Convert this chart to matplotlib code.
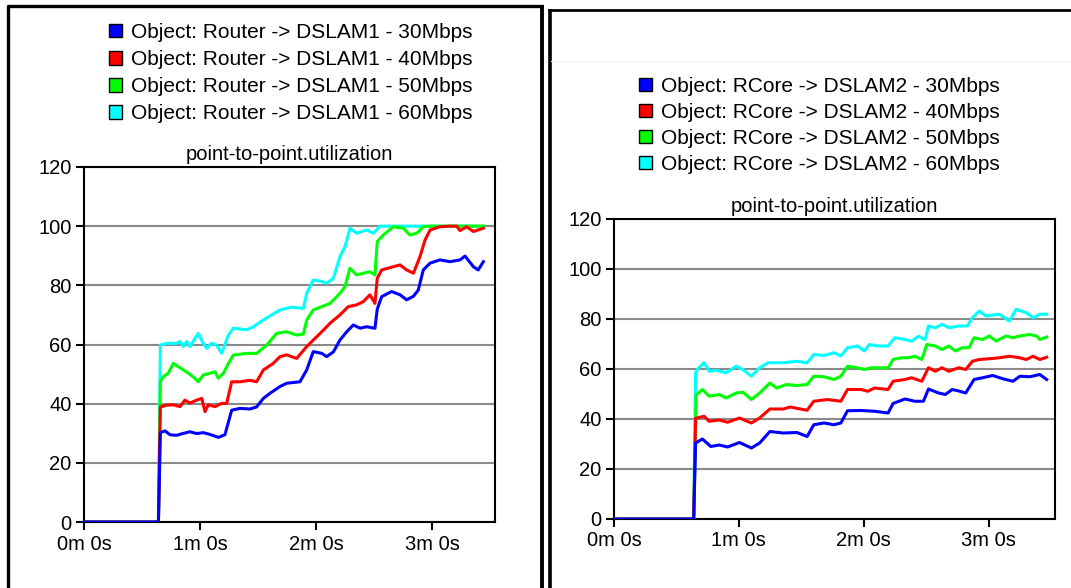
import matplotlib
matplotlib.use("Agg")
import matplotlib.pyplot as plt
from matplotlib.lines import Line2D
from matplotlib.patches import Patch

# ─── Canvas ─────────────────────────────────────────────────────────────────
W, H = 1071, 588
FONT = ["Liberation Sans", "DejaVu Sans"]
FS = 14.5
FS_LEGEND = 15

BLUE = "#0000ff"
RED = "#ff0000"
GREEN = "#00ff00"
CYAN = "#00ffff"
GRID = "#8a8a8a"

TITLE = "point-to-point.utilization"
X_TICKS = [0, 60, 120, 180]
X_LABELS = ["0m 0s", "1m 0s", "2m 0s", "3m 0s"]
Y_TICKS = [0, 20, 40, 60, 80, 100, 120]

# ─── Router -> DSLAM1 (time in s, utilization %) ────────────────────────────
r1_labels = [
    "Object: Router -> DSLAM1 - 30Mbps",
    "Object: Router -> DSLAM1 - 40Mbps",
    "Object: Router -> DSLAM1 - 50Mbps",
    "Object: Router -> DSLAM1 - 60Mbps",
]

r1_30_t = [0, 38.5, 39.5, 41.9, 44.5, 47.9, 50.5, 54.8, 58.3, 61.7, 65.2, 69.5,
           72.9, 76.4, 80.7, 85.9, 89.3, 92.8, 96.2, 101.4, 104.8, 111.7, 115.2,
           118.6, 123.0, 125.5, 129.0, 132.4, 135.9, 139.3, 142.8, 146.2, 150.5,
           151.7, 154.0, 159.1, 163.5, 166.9, 170.4, 172.9, 175.5, 179.0, 184.1,
           189.3, 194.5, 197.1, 201.4, 203.9, 206.6]
r1_30_v = [0, 0, 30.2, 30.8, 29.5, 29.3, 29.8, 30.5, 29.9, 30.2, 29.6, 28.6,
           29.5, 37.8, 38.4, 38.2, 38.9, 41.8, 43.5, 45.8, 46.9, 47.4, 51.4,
           57.6, 57.0, 55.9, 57.5, 61.5, 64.3, 66.6, 65.5, 66.0, 65.5,
           72.0, 76.2, 77.9, 76.8, 75.1, 76.3, 78.4, 85.2, 87.5, 88.6,
           88.0, 88.6, 89.9, 86.3, 85.2, 88.0]

r1_40_t = [0, 38.5, 39.5, 42.8, 46.2, 49.7, 52.2, 54.8, 58.3, 60.9, 62.6, 64.3,
           67.8, 71.2, 73.8, 76.4, 80.7, 85.9, 89.3, 92.8, 97.9, 101.4, 104.8,
           110.0, 115.2, 118.6, 123.0, 127.3, 132.4, 136.7, 141.0, 144.5, 147.9,
           150.5, 151.7, 154.0, 160.0, 163.5, 166.9, 170.4, 173.8, 176.4, 179.0,
           184.1, 189.3, 192.8, 194.5, 197.9, 201.4, 206.6]
r1_40_v = [0, 0, 38.9, 39.5, 39.6, 39.0, 41.2, 40.2, 41.2, 41.8, 37.3, 39.6,
           39.0, 40.1, 40.1, 47.4, 47.4, 47.9, 47.4, 51.4, 53.6, 55.9, 56.5,
           55.3, 59.3, 61.5, 64.3, 67.2, 70.0, 72.8, 73.4, 74.5, 76.8,
           73.9, 82.4, 85.2, 86.3, 86.9, 85.2, 84.1, 89.7, 95.3, 98.7,
           99.8, 100.0, 100.0, 98.5, 99.8, 98.2, 99.3]

r1_50_t = [0, 38.5, 39.5, 41.0, 43.6, 46.2, 48.8, 51.4, 54.0, 56.6, 59.1, 61.7,
           65.2, 67.8, 69.5, 72.1, 74.7, 77.2, 84.1, 89.3, 94.5, 99.7, 104.8,
           110.0, 113.5, 115.2, 118.6, 123.0, 127.3, 132.4, 135.0, 137.6, 141.0,
           144.5, 147.9, 150.5, 151.7, 154.8, 160.0, 165.2, 168.6, 172.1, 175.5,
           179.0, 206.6]
r1_50_v = [0, 0, 47.4, 49.1, 50.3, 53.6, 52.5, 51.4, 50.3, 49.0, 47.4, 49.7,
           50.3, 50.8, 48.6, 50.3, 53.6, 56.4, 57.0, 57.0, 59.8, 63.8, 64.3,
           63.2, 63.5, 68.3, 71.7, 72.8, 73.9, 77.3, 79.6, 85.8, 83.5,
           84.1, 84.6, 83.5, 94.8, 97.0, 99.8, 99.3, 97.0, 97.6, 99.8,
           100.0, 100.0]

r1_60_t = [0, 38.5, 39.5, 42.8, 47.9, 49.7, 51.4, 53.1, 54.8, 59.1, 61.7, 63.5,
           66.0, 68.6, 71.2, 74.7, 77.2, 84.1, 87.6, 92.8, 101.4, 107.4, 113.5,
           115.2, 118.6, 123.0, 125.5, 129.0, 132.4, 135.0, 137.6, 141.0, 146.2,
           149.7, 153.1, 206.6]
r1_60_v = [0, 0, 59.8, 60.4, 60.4, 61.0, 59.3, 61.0, 59.3, 63.8, 60.4, 58.7,
           60.4, 59.8, 57.0, 63.2, 65.5, 65.0, 66.0, 68.3, 71.7, 72.6, 72.2,
           77.3, 81.8, 81.3, 80.7, 82.4, 89.7, 93.1, 99.3, 97.6, 98.7,
           97.6, 100.0, 100.0]

# ─── RCore -> DSLAM2 ────────────────────────────────────────────────────────
r2_labels = [
    "Object: RCore -> DSLAM2 - 30Mbps",
    "Object: RCore -> DSLAM2 - 40Mbps",
    "Object: RCore -> DSLAM2 - 50Mbps",
    "Object: RCore -> DSLAM2 - 60Mbps",
]

r2_30_t = [0, 38.3, 39.2, 42.5, 46.5, 50.5, 54.6, 60.3, 66.0, 70.0, 74.9, 81.4,
           87.9, 92.8, 96.0, 100.9, 105.7, 109.0, 112.2, 118.7, 125.2, 131.7,
           134.1, 139.8, 144.6, 148.7, 151.1, 156.0, 159.2, 162.5, 165.7, 169.0,
           173.0, 177.1, 182.0, 186.8, 191.7, 195.0, 199.8, 204.6, 207.9]
r2_30_v = [0, 0, 30.4, 32.0, 29.0, 29.6, 28.8, 30.6, 28.4, 30.4, 35.0, 34.4,
           34.6, 33.0, 37.7, 38.4, 37.7, 38.4, 43.3, 43.4, 43.1, 42.4,
           46.2, 48.0, 47.1, 47.1, 52.0, 50.4, 49.8, 51.8, 51.2, 50.4,
           55.8, 56.5, 57.4, 56.1, 55.1, 57.1, 56.9, 57.8, 55.8]

r2_40_t = [0, 38.3, 39.2, 43.3, 45.7, 50.6, 54.6, 60.3, 66.0, 70.0, 74.9, 81.4,
           84.6, 92.8, 96.0, 102.5, 109.0, 112.2, 118.7, 122.0, 125.2, 131.7,
           134.1, 139.8, 143.0, 147.9, 151.1, 154.4, 157.6, 160.9, 165.7, 169.0,
           172.2, 175.5, 180.3, 185.2, 190.0, 194.9, 198.1, 201.4, 204.6, 207.9]
r2_40_v = [0, 0, 40.3, 41.1, 39.1, 39.6, 38.7, 40.4, 38.4, 40.4, 44.0, 44.0,
           44.8, 43.5, 47.1, 47.8, 47.1, 51.8, 51.8, 51.1, 52.4, 51.8,
           55.1, 55.8, 56.5, 55.1, 60.5, 59.1, 60.5, 59.1, 60.5, 59.8,
           63.1, 63.8, 64.1, 64.5, 65.1, 64.5, 63.8, 65.1, 63.8, 64.7]

r2_50_t = [0, 38.3, 39.5, 42.5, 45.7, 50.6, 53.8, 58.7, 62.0, 66.0, 70.0, 74.9,
           78.1, 83.0, 87.9, 92.8, 96.0, 100.9, 105.7, 109.0, 112.2, 117.0,
           120.3, 123.6, 126.8, 131.7, 134.1, 138.2, 141.4, 144.6, 147.9, 150.3,
           154.4, 157.6, 160.9, 164.1, 167.3, 170.6, 173.0, 177.1, 180.3, 183.6,
           188.4, 191.7, 195.0, 199.8, 203.0, 204.6, 207.9]
r2_50_v = [0, 0, 49.6, 51.8, 49.1, 49.8, 48.4, 50.4, 50.7, 47.8, 50.4, 54.4,
           52.4, 53.8, 53.4, 53.8, 57.1, 56.9, 55.8, 57.1, 61.1, 60.5,
           59.8, 60.5, 60.5, 60.5, 63.8, 64.5, 64.5, 65.1, 63.8, 69.8,
           69.2, 67.8, 69.2, 67.2, 68.5, 68.5, 72.5, 71.8, 73.2, 71.2,
           73.2, 72.5, 73.2, 73.8, 73.2, 71.8, 72.8]

r2_60_t = [0, 38.3, 39.2, 40.8, 43.3, 45.7, 48.9, 53.8, 58.7, 61.9, 66.0, 70.0,
           74.1, 81.4, 87.9, 92.8, 96.0, 100.9, 105.7, 109.0, 112.2, 117.0,
           120.3, 122.7, 126.8, 131.7, 134.9, 139.8, 143.0, 146.3, 149.5, 151.1,
           154.4, 157.6, 160.9, 165.7, 169.8, 172.2, 175.5, 178.7, 185.2, 190.0,
           193.3, 198.1, 201.4, 204.6, 207.9]
r2_60_v = [0, 0, 58.5, 60.5, 62.5, 59.1, 59.5, 58.5, 61.1, 59.8, 57.1, 60.5,
           62.5, 62.5, 63.1, 62.5, 65.8, 65.4, 66.5, 65.2, 68.5, 69.2,
           67.2, 69.8, 69.2, 69.2, 72.5, 71.8, 71.1, 73.1, 71.8, 77.2,
           76.5, 77.9, 76.5, 77.2, 77.2, 80.5, 83.2, 81.2, 81.9, 79.2,
           83.9, 82.5, 80.5, 81.9, 81.9]

COLORS = [BLUE, RED, GREEN, CYAN]


def fx(px):
    return px / W


def fy(py):
    return 1 - py / H


def draw_panel(fig, box, xmax, series, labels, legend_xy, row_gap):
    left, top, right, bottom = box
    ax = fig.add_axes([fx(left), fy(bottom), (right - left) / W, (bottom - top) / H])

    # cyan first so the lower-rate curves sit on top of it
    for (t, v), color in reversed(list(zip(series, COLORS))):
        ax.plot(t, v, color=color, lw=2.2, solid_joinstyle="round", zorder=3)

    ax.set_xlim(0, xmax)
    ax.set_ylim(0, 120)
    ax.set_xticks(X_TICKS)
    ax.set_xticklabels(X_LABELS)
    ax.set_yticks(Y_TICKS)
    ax.yaxis.grid(True, color=GRID, lw=1.5)
    ax.set_axisbelow(True)
    for sp in ax.spines.values():
        sp.set_linewidth(1.5)
        sp.set_color("black")
    ax.tick_params(direction="out", length=6, width=1.5, pad=3,
                   labelsize=FS, colors="black")
    ax.set_title(TITLE, fontsize=FS, pad=5)

    handles = [Patch(facecolor=c, edgecolor="black", lw=1.0) for c in COLORS]
    ax.legend(handles, labels, loc="upper left",
              bbox_to_anchor=(fx(legend_xy[0]), fy(legend_xy[1])),
              bbox_transform=fig.transFigure, frameon=False, fontsize=FS_LEGEND,
              handlelength=0.62, handleheight=0.62, handletextpad=0.45,
              labelspacing=row_gap, borderpad=0, borderaxespad=0)
    return ax


plt.rcParams["font.family"] = FONT
fig = plt.figure(figsize=(W / 100, H / 100), dpi=100)
fig.patch.set_facecolor("white")

draw_panel(fig, (84, 167, 495, 522), 212.6,
           [(r1_30_t, r1_30_v), (r1_40_t, r1_40_v),
            (r1_50_t, r1_50_v), (r1_60_t, r1_60_v)],
           r1_labels, (109, 23), 0.39)
draw_panel(fig, (614, 219, 1055, 519), 211.9,
           [(r2_30_t, r2_30_v), (r2_40_t, r2_40_v),
            (r2_50_t, r2_50_v), (r2_60_t, r2_60_v)],
           r2_labels, (639, 77), 0.33)

# panel frames
frame = dict(color="black", transform=fig.transFigure, solid_capstyle="butt")
fig.add_artist(Line2D([fx(8), fx(8)], [fy(5), 0], lw=2.4, **frame))
fig.add_artist(Line2D([fx(7), fx(543)], [fy(6), fy(6)], lw=2.4, **frame))
fig.add_artist(Line2D([fx(541.5), fx(541.5)], [fy(5), 0], lw=2.8, **frame))
fig.add_artist(Line2D([fx(549.5), fx(549.5)], [fy(9), 0], lw=2.6, **frame))
fig.add_artist(Line2D([fx(548), 1], [fy(9.5), fy(9.5)], lw=2.0, **frame))
fig.add_artist(Line2D([fx(551), 1], [fy(61), fy(61)], lw=0.8,
                      color="#f2f2f6", transform=fig.transFigure))

fig.savefig("out.png", dpi=100, facecolor="white")
